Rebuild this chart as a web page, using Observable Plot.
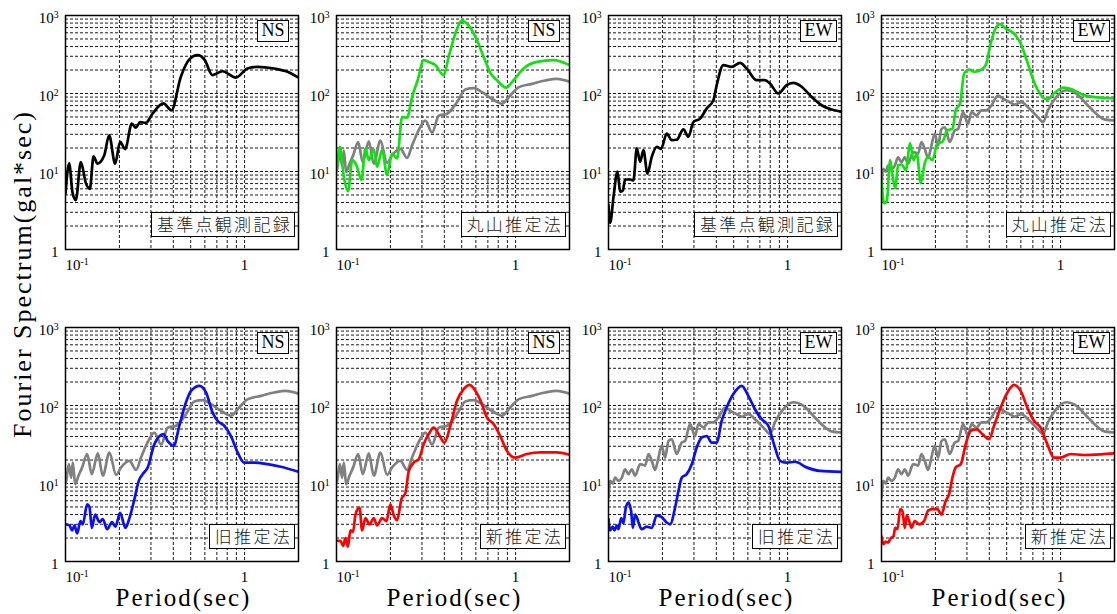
<!DOCTYPE html>
<html><head><meta charset="utf-8">
<script src="https://cdn.jsdelivr.net/npm/d3@7"></script>
<script src="https://cdn.jsdelivr.net/npm/@observablehq/plot@0.6"></script>
<style>
html,body{margin:0;padding:0;background:#fff;}
#wrap{position:relative;width:1117px;height:614px;overflow:hidden;font-family:'Liberation Serif','Times New Roman',serif;color:#000;}
.pl{position:absolute;}
.box{position:absolute;background:#fff;border:1.5px solid #000;box-sizing:border-box;white-space:nowrap;}
.comp{font-family:'Liberation Serif',serif;font-size:18px;height:22px;line-height:19px;padding:0 3.5px;}
.meth{font-family:'Noto Sans CJK JP',sans-serif;font-weight:300;color:#1a1a1a;font-size:17px;height:25px;line-height:22px;padding:0 2px 0 5px;letter-spacing:2.3px;}
.xl{position:absolute;font-size:25px;letter-spacing:2px;transform:translateX(-50%);white-space:nowrap;line-height:16px;}
.yl{position:absolute;left:23px;top:274px;font-size:26px;letter-spacing:2px;white-space:nowrap;line-height:1;transform:translate(-50%,-50%) rotate(-90deg);}
</style></head>
<body><div id="wrap"></div>
<script>
// ---------------- data (period sec, spectrum gal*sec) ----------------
const blackNS=[[0.1,5.2],[0.1048,12.7],[0.1094,5.4],[0.1142,4.3],[0.1218,13.2],[0.1299,7.1],[0.1368,6.0],[0.1434,15.6],[0.1509,12.6],[0.1644,16],[0.1753,29],[0.1893,12.6],[0.2019,24],[0.2153,19.4],[0.2346,41],[0.247,36.6],[0.2612,43],[0.2808,42],[0.3059,55],[0.3525,74.5],[0.3906,61],[0.4406,164],[0.4903,272],[0.5458,310],[0.5996,268],[0.6617,172],[0.7525,193],[0.8935,160],[1.038,209],[1.18,220],[1.462,209],[1.736,190],[2.0,160]];
const blackEW=[[0.1,3.7],[0.1022,2.2],[0.1066,4.7],[0.1122,10],[0.1162,5.5],[0.1202,5.7],[0.1238,7.9],[0.1321,7.9],[0.1378,7.7],[0.1439,19.8],[0.1502,13.3],[0.1567,18.8],[0.165,9.4],[0.1744,15.4],[0.186,20.7],[0.1966,19.5],[0.2114,30.6],[0.2255,25.2],[0.2405,25.5],[0.262,34.6],[0.2794,27.9],[0.2979,43.3],[0.3245,47.6],[0.3536,64.5],[0.3852,82],[0.402,128],[0.4379,231],[0.4871,220],[0.5424,247],[0.591,209],[0.6717,148],[0.7476,148],[0.7971,134.5],[0.8872,100],[0.9872,128],[1.076,137],[1.198,122],[1.332,95.3],[1.548,70.7],[1.76,62.5],[2.0,58.4]];
const greyNS=[[0.1,10],[0.1009,10.8],[0.1044,17.7],[0.1075,11.9],[0.1099,18.5],[0.1132,9.8],[0.1182,12.6],[0.1239,16.1],[0.1321,23.9],[0.1402,13.2],[0.1515,24.3],[0.1615,12.6],[0.1759,24.9],[0.1916,12.9],[0.2044,16.1],[0.2275,19.5],[0.2478,14.9],[0.2641,21.5],[0.2815,30.5],[0.3135,45],[0.3417,31.6],[0.3723,52],[0.4143,55],[0.4706,77.4],[0.524,112.5],[0.5834,117],[0.6495,104],[0.7377,85.6],[0.8379,73.9],[0.9326,94.3],[1.038,120],[1.233,133],[1.464,146.8],[1.7,154],[2.0,142]];
const greyEW=[[0.1,6.6],[0.1022,10.8],[0.1057,10],[0.1089,11.9],[0.1137,10.8],[0.1187,11.9],[0.1238,15.2],[0.1292,13.2],[0.1349,15.2],[0.1408,12.6],[0.1502,17.7],[0.1601,17],[0.1671,23.9],[0.1744,19.5],[0.182,14.9],[0.19,21.5],[0.1983,30.5],[0.207,21.5],[0.2161,35],[0.2255,36.9],[0.2405,23.9],[0.2565,33.5],[0.2676,35],[0.2854,57.8],[0.3044,40.5],[0.3177,57.8],[0.3389,52.2],[0.3612,60.8],[0.3857,60.8],[0.4106,70],[0.4472,94.3],[0.4768,85.6],[0.5197,77.4],[0.5541,71.9],[0.6035,77.4],[0.6717,63.6],[0.7476,49.5],[0.7971,43],[0.8499,60.8],[0.9458,89.6],[1.076,110],[1.223,99.3],[1.391,73.9],[1.581,55],[1.76,46.5],[2.0,45]];
const greenNS=[[0.1,10],[0.1044,20.7],[0.1099,8.5],[0.1162,5.6],[0.1223,14],[0.1293,12],[0.1379,7.8],[0.1451,19.8],[0.1515,14],[0.1615,19.2],[0.1685,11.5],[0.1797,18.8],[0.1916,9],[0.2044,17],[0.218,14.7],[0.2324,50],[0.2478,49],[0.2641,90],[0.284,148],[0.3069,268],[0.3272,254],[0.3565,231],[0.3967,172],[0.423,295],[0.4609,588],[0.5019,854],[0.5354,790],[0.6086,483],[0.6632,295],[0.7225,184],[0.7869,148],[0.8871,119],[0.9746,148],[1.108,209],[1.315,254],[1.629,268],[2.0,231]];
const greenEW=[[0.1,7.4],[0.1035,3.9],[0.1071,4.2],[0.1118,14],[0.1152,9],[0.1192,6.1],[0.1238,12],[0.1298,12.3],[0.1367,10.4],[0.1445,23],[0.1508,14],[0.1574,17],[0.1657,7.1],[0.1744,12.7],[0.182,15.5],[0.1925,14],[0.2052,23],[0.2189,24],[0.2333,34],[0.2489,35],[0.2598,61],[0.2747,74.5],[0.2891,180],[0.3083,203],[0.3287,190],[0.3581,200],[0.3818,231],[0.4072,438],[0.4285,648],[0.4589,774],[0.4934,681],[0.5495,588],[0.5984,438],[0.6519,254],[0.7102,141],[0.7903,90.6],[0.8427,83.7],[0.918,100],[1.044,119],[1.187,110],[1.35,95.3],[1.601,89.1],[2.0,86.4]];
const blueNS=[[0.1,3.0],[0.1053,2.9],[0.1089,2.5],[0.1122,2.9],[0.1162,2.3],[0.1212,3.3],[0.1249,3.0],[0.1321,5.4],[0.1361,5.0],[0.1402,2.7],[0.1464,4.0],[0.1547,3.2],[0.1615,3.5],[0.1707,2.6],[0.182,3.2],[0.19,2.8],[0.2018,4.2],[0.2161,2.7],[0.2275,3.6],[0.2426,6.3],[0.2565,10.8],[0.27,13.2],[0.2879,16.1],[0.3136,32],[0.3521,43],[0.3721,35],[0.402,30.5],[0.4322,55],[0.4708,110],[0.5024,154],[0.5589,179],[0.6087,147],[0.6632,81],[0.7071,63.5],[0.7702,55],[0.8392,40.5],[0.9142,25],[0.9957,18.5],[1.132,18.5],[1.344,17.7],[1.594,16.4],[2.0,14.1]];
const blueEW=[[0.1,3.5],[0.1022,2.5],[0.1057,2.8],[0.108,2.5],[0.1113,2.9],[0.1137,2.6],[0.1177,3.6],[0.1212,3.1],[0.1249,4.9],[0.1292,5.7],[0.1338,4.4],[0.1367,2.7],[0.1408,4.0],[0.1451,3.5],[0.1489,2.9],[0.1534,2.6],[0.1636,2.8],[0.1744,2.7],[0.186,3.9],[0.1983,3.7],[0.2114,3.16],[0.2208,3.0],[0.2354,4.9],[0.2457,8.0],[0.2565,11.9],[0.2734,13.2],[0.2916,17.7],[0.3109,29],[0.3314,38.9],[0.3536,40.5],[0.377,33.5],[0.402,33.5],[0.4285,63.6],[0.457,94.3],[0.4978,140],[0.5541,179],[0.6035,133],[0.6576,89.6],[0.7161,66.8],[0.7801,55],[0.8499,29],[0.9063,19.5],[0.9872,18.5],[1.099,19],[1.276,16.1],[1.515,14.5],[2.0,14.1]];
const redNS=[[0.1,1.84],[0.1053,1.84],[0.1089,1.58],[0.1122,2.0],[0.1157,1.55],[0.1197,2.5],[0.1238,2.4],[0.1276,4.0],[0.1344,4.9],[0.139,2.5],[0.1451,3.6],[0.1528,3.0],[0.1615,3.6],[0.1686,2.9],[0.1797,3.6],[0.19,3.3],[0.2,5.4],[0.2087,3.9],[0.218,3.4],[0.2304,6.3],[0.2426,7.6],[0.2532,14.4],[0.27,18.5],[0.2879,20.5],[0.3069,32],[0.3273,43],[0.349,52],[0.3721,43],[0.4003,33.5],[0.4322,55],[0.4708,115],[0.5129,162],[0.5541,184],[0.5963,154],[0.6492,104],[0.6921,70],[0.754,58],[0.8214,40.5],[0.8949,26.2],[0.9957,21.5],[1.157,23.9],[1.373,25],[1.7,25],[2.0,23.3]];
const redEW=[[0.1,2.1],[0.1026,1.67],[0.1057,1.8],[0.1089,1.75],[0.1127,2.0],[0.1167,2.1],[0.1192,2.7],[0.1228,2.6],[0.1271,4.7],[0.131,4.4],[0.1349,2.7],[0.1385,3.9],[0.1427,3.3],[0.147,2.7],[0.1534,3.3],[0.1622,3.0],[0.1729,3.3],[0.182,4.5],[0.1925,4.7],[0.2052,4.7],[0.2161,4.0],[0.2284,6.0],[0.2384,7.3],[0.2489,11.9],[0.2598,16.1],[0.277,17.7],[0.2953,32],[0.3148,47.2],[0.3403,49.5],[0.3658,43],[0.3986,36.9],[0.425,55],[0.463,94.3],[0.5045,147],[0.5495,184],[0.5984,154],[0.6519,94.3],[0.7102,63.6],[0.7737,52.2],[0.8427,32],[0.918,21.5],[1.0,21.5],[1.137,23.9],[1.35,23.2],[1.671,23.6],[2.0,24.3]];

const components=["NS","NS","EW","EW","NS","NS","EW","EW"];
const methods=["基準点観測記録","丸山推定法","基準点観測記録","丸山推定法","旧推定法","新推定法","旧推定法","新推定法"];
const xTicks=[0.1,1];
const yTicks=[1,10,100,1000];
const xGrid=[0.2,0.3,0.4,0.5,0.6,0.7,0.8,0.9,1];
const yGrid=[2,3,4,5,6,7,8,9,10,20,30,40,50,60,70,80,90,100,200,300,400,500,600,700,800,900];
const xLabel="Period(sec)";
const yLabel="Fourier Spectrum(gal*sec)";

// ---------------- panels ----------------
const C={black:"#000000",grey:"#808080",green:"#12e012",blue:"#0a10f0",red:"#ff0000"};
const panels=[
  [[C.black,blackNS]],
  [[C.grey,greyNS],[C.green,greenNS]],
  [[C.black,blackEW]],
  [[C.grey,greyEW],[C.green,greenEW]],
  [[C.grey,greyNS],[C.blue,blueNS]],
  [[C.grey,greyNS],[C.red,redNS]],
  [[C.grey,greyEW],[C.blue,blueEW]],
  [[C.grey,greyEW],[C.red,redEW]]
];
const frameLefts=[65,336,608,881], frameTops=[15,327], FW=233, FH=234;
const mL=48,mR=4,mT=16,mB=34;
const wrap=document.getElementById("wrap");
const fmt=v=>{if(Math.abs(v-1)<1e-9)return "1";return "10^"+Math.round(Math.log10(v));};
const gridStyle={stroke:"#000",strokeOpacity:1,strokeWidth:0.9,strokeDasharray:"3,2"};

panels.forEach((series,i)=>{
  const col=i%4,row=Math.floor(i/4);
  const L=frameLefts[col],T=frameTops[row];
  const svg=Plot.plot({
    width:FW+mL+mR,height:FH+mT+mB,
    marginLeft:mL,marginRight:mR,marginTop:mT,marginBottom:mB,
    x:{type:"log",domain:[0.1,2]},
    y:{type:"log",domain:[1,1000]},
    style:{fontFamily:"'Liberation Serif','Times New Roman',serif",fontSize:"15px",background:"transparent",overflow:"visible",color:"#000"},
    marks:[
      Plot.gridX({ticks:xGrid,...gridStyle}),
      Plot.gridY({ticks:yGrid,...gridStyle}),
      ...series.map(([c,d])=>Plot.line(d,{x:p=>p[0],y:p=>p[1],stroke:c,strokeWidth:2.7,curve:"monotone-x",clip:true})),
      Plot.frame({stroke:"#000",strokeWidth:1.5}),
      Plot.axisY({ticks:yTicks,tickSize:0,tickPadding:7,tickFormat:fmt,dy:3,label:null}),
      Plot.axisX({ticks:xTicks,tickSize:0,tickPadding:10,tickFormat:fmt,label:null})
    ]
  });
  d3.select(svg).selectAll('g[aria-label="y-axis tick label"] text, g[aria-label="x-axis tick label"] text').each(function(){
    const t=this.textContent;
    if(t.indexOf("^")>=0){
      const [b,e]=t.split("^");
      const s=d3.select(this);
      s.text(null);
      s.append("tspan").text(b);
      s.append("tspan").attr("dy","-0.5em").attr("font-size","0.65em").text(e);
      if(e==="-1" && this.closest('g[aria-label="x-axis tick label"]')) s.attr("text-anchor","start");
    }
  });
  svg.classList.add("pl");
  svg.style.left=(L-mL)+"px";
  svg.style.top=(T-mT)+"px";
  wrap.appendChild(svg);

  const R=L+FW, B=T+FH;
  const cb=document.createElement("div");
  cb.className="box comp"; cb.textContent=components[i];
  cb.style.left=(R-41)+"px"; cb.style.top=(T+5)+"px";
  wrap.appendChild(cb);
  const mb=document.createElement("div");
  mb.className="box meth"; mb.textContent=methods[i];
  mb.style.right=(1117-(R-3))+"px"; mb.style.top=(B-12-25)+"px";
  wrap.appendChild(mb);
  if(row===1){
    const xl=document.createElement("div");
    xl.className="xl"; xl.textContent=xLabel;
    xl.style.left=(L+FW/2+2)+"px"; xl.style.top="590px";
    wrap.appendChild(xl);
  }
});
const yl=document.createElement("div");
yl.className="yl"; yl.textContent=yLabel;
wrap.appendChild(yl);
</script></body></html>
